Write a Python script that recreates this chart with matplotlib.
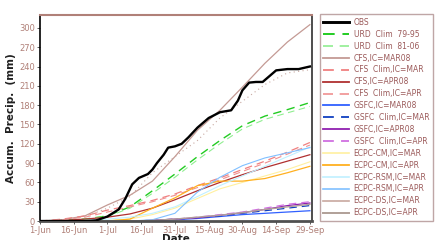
import matplotlib
matplotlib.use("Agg")
import matplotlib.pyplot as plt
from matplotlib.lines import Line2D

# ---------------- data ----------------
obs_days = [0, 5, 10, 15, 20, 25, 30, 35, 38, 41, 44, 48, 50, 52, 55, 57, 60, 63, 66, 70,
            75, 80, 85, 88, 90, 93, 96, 99, 102, 105, 110, 115, 120]
obs_vals = [0, 0, 0, 0, 0, 1, 7, 18, 35, 57, 67, 73, 80, 90, 103, 114, 116, 120, 130, 145,
            160, 169, 172, 187, 203, 215, 216, 216, 225, 234, 236, 236, 240]

model_days = [0, 10, 20, 30, 40, 50, 60, 70, 80, 90, 100, 110, 120]

urd_79_95 = [0, 1, 3, 8, 22, 47, 73, 100, 125, 148, 163, 173, 184]
urd_81_06 = [0, 1, 3, 7, 20, 43, 68, 95, 120, 143, 158, 168, 178]
cfs_mar08 = [0, 2, 8, 25, 40, 62, 100, 141, 172, 208, 245, 278, 305]
cfs_clim_mar = [0, 3, 8, 17, 24, 32, 42, 55, 67, 80, 93, 107, 122]
cfs_apr08 = [0, 1, 3, 6, 11, 20, 33, 47, 60, 72, 83, 93, 103]
cfs_clim_apr = [0, 2, 6, 14, 22, 30, 40, 52, 64, 77, 90, 104, 118]
gsfc_mar08 = [0, 0, 0, 0, 0, 1, 2, 4, 7, 10, 12, 14, 16]
gsfc_clim_mar = [0, 0, 0, 0, 0, 1, 3, 5, 8, 12, 16, 20, 24]
gsfc_apr08 = [0, 0, 0, 0, 0, 1, 3, 5, 9, 13, 18, 24, 28]
gsfc_clim_apr = [0, 0, 0, 0, 0, 1, 3, 6, 10, 14, 20, 26, 30]
ecpc_cm_mar = [0, 0, 0, 1, 3, 10, 20, 35, 50, 60, 70, 80, 92]
ecpc_cm_apr = [0, 0, 0, 0, 3, 20, 36, 55, 62, 62, 66, 75, 85]
ecpc_rsm_mar = [0, 0, 1, 3, 6, 12, 22, 38, 55, 70, 85, 100, 115]
ecpc_rsm_apr = [0, 0, 0, 0, 0, 2, 12, 45, 68, 86, 98, 106, 114]
ecpc_ds_mar = [0, 2, 7, 20, 38, 75, 100, 125, 160, 186, 212, 230, 235]
ecpc_ds_apr = [0, 0, 0, 0, 0, 1, 3, 6, 9, 13, 18, 22, 26]

labels = ["OBS", "URD  Clim  79-95", "URD  Clim  81-06", "CFS,IC=MAR08",
          "CFS  Clim,IC=MAR", "CFS,IC=APR08", "CFS  Clim,IC=APR",
          "GSFC,IC=MAR08", "GSFC  Clim,IC=MAR", "GSFC,IC=APR08",
          "GSFC  Clim,IC=APR", "ECPC-CM,IC=MAR", "ECPC-CM,IC=APR",
          "ECPC-RSM,IC=MAR", "ECPC-RSM,IC=APR", "ECPC-DS,IC=MAR", "ECPC-DS,IC=APR"]

tick_days = [0, 15, 30, 45, 60, 75, 90, 105, 120]
tick_labels = ["1-Jun", "16-Jun", "1-Jul", "16-Jul", "31-Jul", "15-Aug", "30-Aug", "14-Sep", "29-Sep"]
ytick_vals = list(range(0, 301, 30))

# ---------------- styles ----------------
series = [obs_vals, urd_79_95, urd_81_06, cfs_mar08, cfs_clim_mar, cfs_apr08, cfs_clim_apr,
          gsfc_mar08, gsfc_clim_mar, gsfc_apr08, gsfc_clim_apr, ecpc_cm_mar, ecpc_cm_apr,
          ecpc_rsm_mar, ecpc_rsm_apr, ecpc_ds_mar, ecpc_ds_apr]
colors = ["black", "#22cc22", "#90ee90", "#c49a94", "#f08080", "#b03030", "#f09090",
          "#3060ff", "#1040c0", "#9020b0", "#d070e0", "#fff0a0", "#ffb020",
          "#c0f0ff", "#80c0ff", "#c8a8a0", "#b0a098"]
styles = ["-", (0, (6, 4)), (0, (6, 4)), "-", (0, (6, 4)), "-", (0, (6, 4)),
          "-", (0, (6, 4)), "-", (0, (6, 4)), "-", "-", "-", "-", "-", "-"]
plot_styles = list(styles)
plot_styles[15] = (0, (1, 3))
widths = [1.7, 1.0, 0.8, 0.9, 0.9, 0.9, 0.8, 0.9, 0.9, 0.9, 0.9, 0.8, 0.9, 0.8, 0.8, 0.8, 1.0]

fig = plt.figure(figsize=(4.44, 2.40), dpi=100)
ax = fig.add_axes([0.09, 0.079, 0.613, 0.8585])

order = list(range(1, len(series))) + [0]
for i in order:
    x = obs_days if i == 0 else model_days
    ax.plot(x, series[i], color=colors[i], linestyle=plot_styles[i], linewidth=widths[i],
            zorder=5 if i == 0 else 2)

ax.set_xlim(0, 121)
ax.set_ylim(0, 320)
ax.set_xticks(tick_days)
ax.set_xticklabels(tick_labels)
ax.set_yticks(ytick_vals)
tc = "#b08078"
ax.tick_params(axis="both", labelsize=6, colors="#404040", labelcolor=tc, length=2, width=0.6, pad=1.5)
ax.set_ylabel("Accum.  Precip.  (mm)", fontsize=7.5, fontweight="bold", color="#202020", labelpad=2)
ax.set_xlabel("Date", fontsize=7.5, fontweight="bold", color="#202020", labelpad=-1)

ax.spines["top"].set_color("#b08078")
ax.spines["top"].set_linewidth(1.5)
ax.spines["bottom"].set_color("#505050")
ax.spines["bottom"].set_linewidth(2)
ax.spines["left"].set_color("black")
ax.spines["left"].set_linewidth(1.2)
ax.spines["right"].set_color("#303030")
ax.spines["right"].set_linewidth(1.2)

handles = [Line2D([0], [0], color=colors[i], linestyle=styles[i],
                  linewidth=widths[i] + 0.4)
           for i in range(len(series))]
leg = fig.legend(handles, labels, loc="upper left", bbox_to_anchor=(0.72, 0.94),
                 fontsize=5.5, frameon=True, fancybox=False, handlelength=3.4,
                 handletextpad=0.6, labelspacing=0.38, borderpad=0.45, borderaxespad=0)
leg.get_frame().set_edgecolor("#b09090")
leg.get_frame().set_linewidth(1.0)
for t in leg.get_texts():
    t.set_color("#9b5a5a")

fig.savefig("out.png", dpi=100)
